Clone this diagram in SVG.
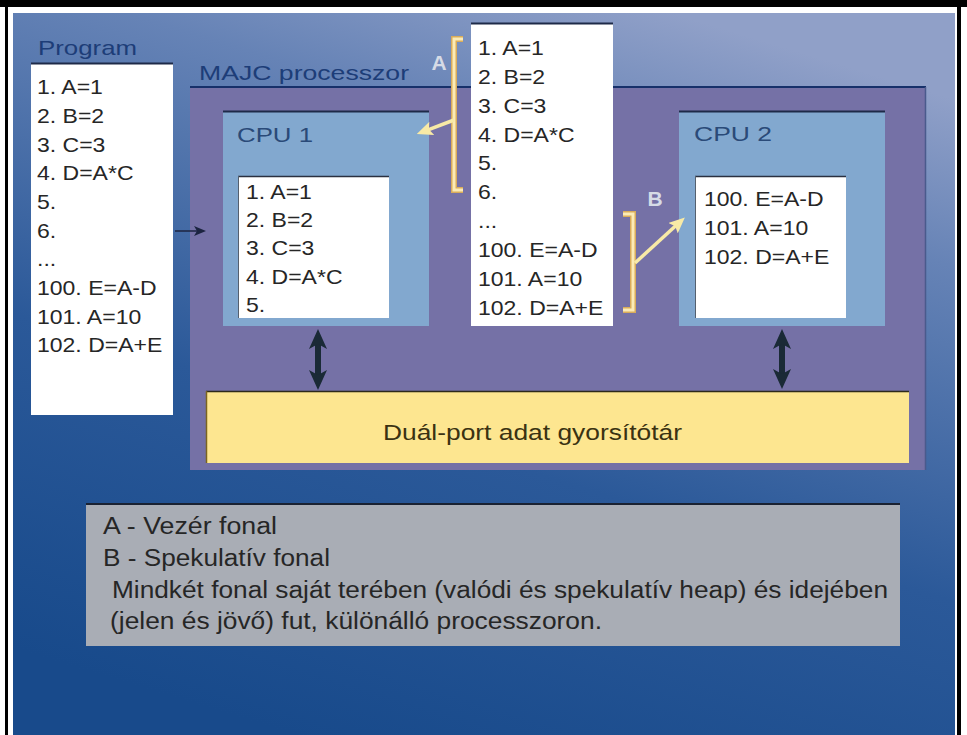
<svg xmlns="http://www.w3.org/2000/svg" width="967" height="735" viewBox="0 0 967 735">
  <defs>
    <linearGradient id="bg" x1="0.3" y1="1" x2="0.7" y2="0">
      <stop offset="0" stop-color="#184a8b"/>
      <stop offset="0.4" stop-color="#2b5999"/>
      <stop offset="0.8" stop-color="#6683b6"/>
      <stop offset="1" stop-color="#90a0c8"/>
    </linearGradient>
    <marker id="ydark" viewBox="0 0 20 18" refX="6" refY="9" markerWidth="20" markerHeight="18" orient="auto-start-reverse" markerUnits="userSpaceOnUse">
      <path d="M0,0 L20,9 L0,18 L5,9 z" fill="#1a2a36"/>
    </marker>
    <marker id="yhead" viewBox="0 0 16 14" refX="4" refY="7" markerWidth="16" markerHeight="14" orient="auto" markerUnits="userSpaceOnUse">
      <path d="M0,0 L16,7 L0,14 L3,7 z" fill="#f8eaa6"/>
    </marker>
    <marker id="dhead" viewBox="0 0 12 10" refX="4" refY="5" markerWidth="12" markerHeight="10" orient="auto" markerUnits="userSpaceOnUse">
      <path d="M0,0 L12,5 L0,10 L3,5 z" fill="#1c2440"/>
    </marker>
  </defs>
  <style>
    text { font-family: "Liberation Sans", Arial, sans-serif; }
    .lst { font-size: 20px; fill: #262626; }
    .lbl { font-size: 21px; fill: #1d3d78; }
    .cpu { font-size: 20px; fill: #2a4a78; }
    .thr { font-size: 21px; font-weight: bold; fill: #d6dbe6; }
    .leg { font-size: 23px; fill: #262626; }
    .white { fill: #ffffff; }
    .edge { stroke: #1e2a48; stroke-width: 2; fill: none; }
    .brk { fill: none; stroke: #d9ac5a; stroke-width: 6; }
    .brk2 { fill: none; stroke: #fbebb6; stroke-width: 3; }
  </style>

  <!-- frame and background -->
  <rect x="0" y="0" width="967" height="735" fill="#ffffff"/>
  <rect x="0" y="0" width="967" height="7" fill="#000000"/>
  <rect x="5" y="0" width="3" height="735" fill="#000000"/>
  <rect x="957" y="0" width="4" height="735" fill="#000000"/>
  <rect x="13" y="13" width="942" height="722" fill="url(#bg)"/>

  <!-- Program -->
  <g id="program">
    <text class="lbl" x="38" y="54.5" textLength="99" lengthAdjust="spacingAndGlyphs">Program</text>
    <rect class="white" x="31" y="63" width="142" height="352"/>
    <line x1="31" y1="63.5" x2="173" y2="63.5" stroke="#1e2a48" stroke-width="2"/>
    <g transform="translate(37 0) scale(1.15 1)">
      <text class="lst" x="0" y="94.5">1. A=1</text>
      <text class="lst" x="0" y="123">2. B=2</text>
      <text class="lst" x="0" y="152">3. C=3</text>
      <text class="lst" x="0" y="180.5">4. D=A*C</text>
      <text class="lst" x="0" y="209">5.</text>
      <text class="lst" x="0" y="238">6.</text>
      <text class="lst" x="0" y="266">...</text>
      <text class="lst" x="0" y="295">100. E=A-D</text>
      <text class="lst" x="0" y="324">101. A=10</text>
      <text class="lst" x="0" y="352.5">102. D=A+E</text>
    </g>
  </g>

  <!-- MAJC processor -->
  <g id="majc">
    <text class="lbl" x="199" y="79.5" textLength="210" lengthAdjust="spacingAndGlyphs">MAJC processzor</text>
    <rect x="190" y="87" width="736" height="383" fill="#7571a6"/>
    <line x1="190" y1="87" x2="926" y2="87" stroke="#16306a" stroke-width="2"/>
    <line x1="925.5" y1="87" x2="925.5" y2="470" stroke="#4a5a8c" stroke-width="1.5"/>
  </g>

  <!-- CPU 1 -->
  <g id="cpu1">
    <rect x="223" y="111" width="206" height="215" fill="#82a8cf"/>
    <line x1="223" y1="111.5" x2="429" y2="111.5" class="edge"/>
    <text class="cpu" x="237" y="142" textLength="76" lengthAdjust="spacingAndGlyphs">CPU 1</text>
    <rect class="white" x="238" y="176" width="151" height="142"/>
    <line x1="238" y1="176.5" x2="389" y2="176.5" stroke="#2a3040" stroke-width="1.5"/>
    <line x1="238.5" y1="176" x2="238.5" y2="318" stroke="#55606e" stroke-width="1"/>
    <g transform="translate(246 0) scale(1.15 1)">
      <text class="lst" x="0" y="199">1. A=1</text>
      <text class="lst" x="0" y="227.5">2. B=2</text>
      <text class="lst" x="0" y="255.5">3. C=3</text>
      <text class="lst" x="0" y="284">4. D=A*C</text>
      <text class="lst" x="0" y="312">5.</text>
    </g>
  </g>

  <!-- CPU 2 -->
  <g id="cpu2">
    <rect x="679" y="111" width="206" height="215" fill="#82a8cf"/>
    <line x1="679" y1="111.5" x2="885" y2="111.5" class="edge"/>
    <text class="cpu" x="694" y="141" textLength="78" lengthAdjust="spacingAndGlyphs">CPU 2</text>
    <rect class="white" x="695" y="176" width="151" height="142"/>
    <line x1="695" y1="176.5" x2="846" y2="176.5" stroke="#2a3040" stroke-width="1.5"/>
    <line x1="695.5" y1="176" x2="695.5" y2="318" stroke="#55606e" stroke-width="1"/>
    <g transform="translate(704 0) scale(1.15 1)">
      <text class="lst" x="0" y="206">100. E=A-D</text>
      <text class="lst" x="0" y="235">101. A=10</text>
      <text class="lst" x="0" y="264">102. D=A+E</text>
    </g>
  </g>

  <!-- Thread list -->
  <g id="threads">
    <rect class="white" x="471" y="23" width="142" height="303"/>
    <line x1="471" y1="23.5" x2="613" y2="23.5" stroke="#1e2a48" stroke-width="2"/>
    <g transform="translate(478 0) scale(1.15 1)">
      <text class="lst" x="0" y="55">1. A=1</text>
      <text class="lst" x="0" y="84">2. B=2</text>
      <text class="lst" x="0" y="113">3. C=3</text>
      <text class="lst" x="0" y="142">4. D=A*C</text>
      <text class="lst" x="0" y="170.5">5.</text>
      <text class="lst" x="0" y="199.5">6.</text>
      <text class="lst" x="0" y="228.5">...</text>
      <text class="lst" x="0" y="257">100. E=A-D</text>
      <text class="lst" x="0" y="286">101. A=10</text>
      <text class="lst" x="0" y="315">102. D=A+E</text>
    </g>
  </g>

  <!-- Thread A bracket -->
  <g id="thread-a">
    <path class="brk" d="M463,39 H454 V190 H463"/>
    <path class="brk2" d="M463,39 H454 V190 H463"/>
    <text class="thr" x="439" y="70" text-anchor="middle">A</text>
  </g>

  <!-- Thread B bracket -->
  <g id="thread-b">
    <path class="brk" d="M623,214 H633 V310 H623"/>
    <path class="brk2" d="M623,214 H633 V310 H623"/>
    <text class="thr" x="655" y="206" text-anchor="middle">B</text>
  </g>

  <!-- Cache -->
  <g id="cache">
    <rect x="206" y="391" width="703" height="72" fill="#fde690"/>
    <line x1="206" y1="391.5" x2="909" y2="391.5" stroke="#2d2a1a" stroke-width="1.5"/>
    <line x1="206.5" y1="391" x2="206.5" y2="463" stroke="#7a6420" stroke-width="1.5"/>
    <text x="383" y="440" font-size="22" fill="#3a3212" textLength="299" lengthAdjust="spacingAndGlyphs">Duál-port adat gyorsítótár</text>
  </g>

  <!-- Legend -->
  <g id="legend">
    <rect x="86" y="503" width="814" height="143" fill="#a9adb5"/>
    <line x1="86" y1="504" x2="900" y2="504" stroke="#1a2232" stroke-width="2"/>
    <text class="leg" x="103" y="534" textLength="174" lengthAdjust="spacingAndGlyphs">A - Vezér fonal</text>
    <text class="leg" x="103" y="566" textLength="227" lengthAdjust="spacingAndGlyphs">B - Spekulatív fonal</text>
    <text class="leg" x="112" y="598" textLength="776" lengthAdjust="spacingAndGlyphs">Mindkét fonal saját terében (valódi és spekulatív heap) és idejében</text>
    <text class="leg" x="110" y="629" textLength="492" lengthAdjust="spacingAndGlyphs">(jelen és jövő) fut, különálló processzoron.</text>
  </g>

  <!-- Connectors -->
  <g id="connectors">
    <line x1="175" y1="231" x2="198" y2="231" stroke="#1c2440" stroke-width="1.5" marker-end="url(#dhead)"/>
    <line x1="454" y1="120" x2="428" y2="129.8" stroke="#f8eaa6" stroke-width="3.5" marker-end="url(#yhead)"/>
    <line x1="635" y1="263" x2="676" y2="225.5" stroke="#f8eaa6" stroke-width="3.5" marker-end="url(#yhead)"/>
    <line x1="318" y1="343" x2="318" y2="376" stroke="#1a2a36" stroke-width="6" marker-start="url(#ydark)" marker-end="url(#ydark)"/>
    <line x1="782" y1="343" x2="782" y2="375" stroke="#1a2a36" stroke-width="6" marker-start="url(#ydark)" marker-end="url(#ydark)"/>
  </g>
</svg>
